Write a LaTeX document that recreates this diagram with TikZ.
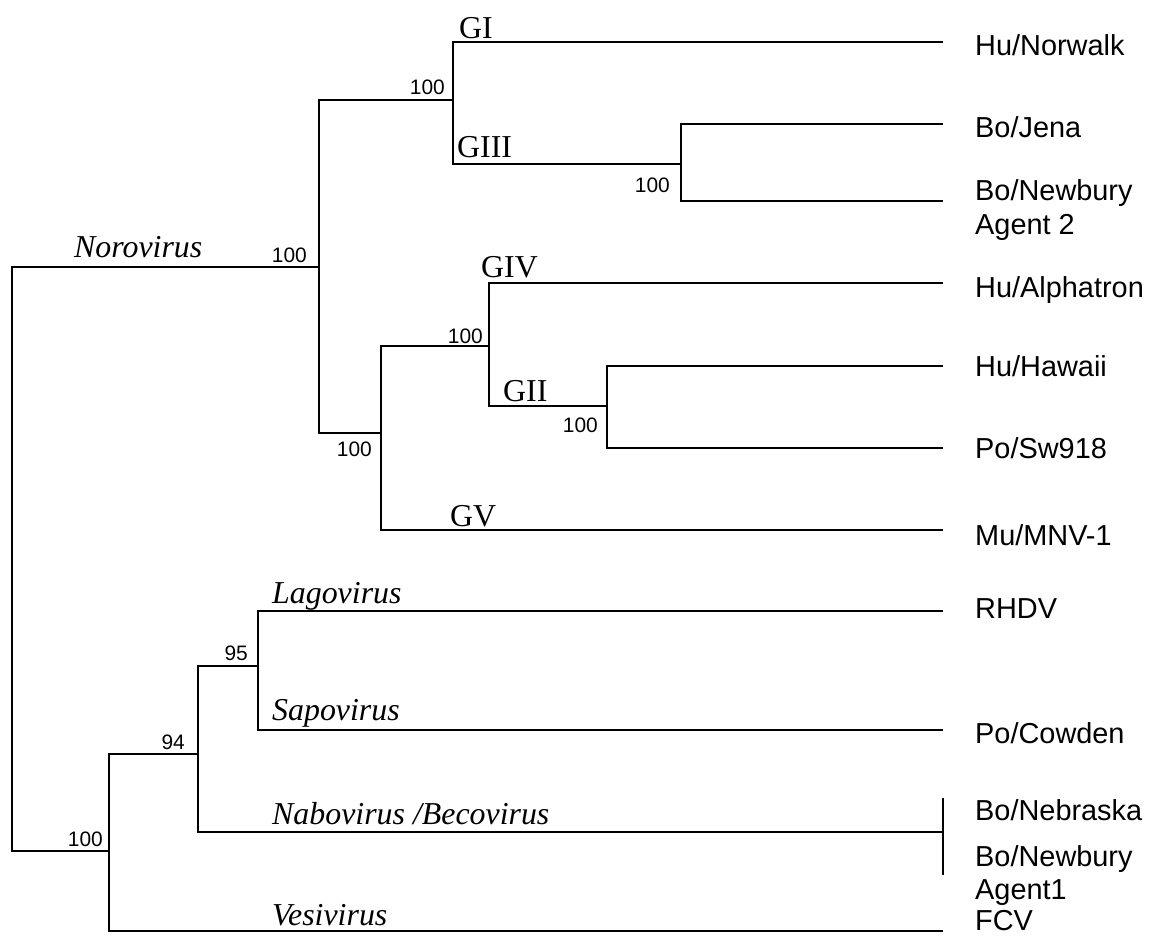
\documentclass[tikz,border=0pt]{standalone}
\usepackage{fontspec}
\setmainfont{Liberation Serif}
\newfontfamily\arialf{Liberation Sans}
\begin{document}
\begin{tikzpicture}[x=1bp,y=-1bp,
  branch/.style={draw=black, line width=2bp, line join=miter},
  leaf/.style={anchor=base west, inner sep=0pt, font=\arialf\fontsize{29}{29}\selectfont},
  boot/.style={anchor=base east, inner sep=0pt, font=\arialf\fontsize{21}{21}\selectfont},
  clade/.style={anchor=base west, inner sep=0pt, font=\fontsize{32}{32}\selectfont},
  genus/.style={anchor=base west, inner sep=0pt, font=\itshape\fontsize{32}{32}\selectfont}]
\fill[white] (0,0) rectangle (1153,936);
\useasboundingbox (0,0) rectangle (1153,936);

% internal nodes (point where incoming branch meets the node)
\coordinate (root) at (12,559);
\coordinate (nN) at (319,267);
\coordinate (nG13) at (453,100);
\coordinate (nG3) at (681,164);
\coordinate (nB) at (381,433);
\coordinate (nG42) at (489,346);
\coordinate (nG2) at (607,406);
\coordinate (nC) at (109,851);
\coordinate (n94) at (198,754);
\coordinate (n95) at (258,666);

% leaf ends
\coordinate (lNor) at (943,42);
\coordinate (lJen) at (943,124);
\coordinate (lNew2) at (943,201);
\coordinate (lAlp) at (943,283);
\coordinate (lHaw) at (943,366);
\coordinate (lSw) at (943,448);
\coordinate (lMNV) at (943,530);
\coordinate (lRHDV) at (943,611);
\coordinate (lCow) at (943,730);
\coordinate (lNeb) at (943,832);
\coordinate (lFCV) at (943,931);
\coordinate (bTop) at (943,798);
\coordinate (bBot) at (943,875);

% branches
\path[branch] (root) |- (nN);
\path[branch] (root) |- (nC);
\path[branch] (nN) |- (nG13);
\path[branch] (nN) |- (nB);
\path[branch] (nG13) |- (lNor);
\path[branch] (nG13) |- (nG3);
\path[branch] (nG3) |- (lJen);
\path[branch] (nG3) |- (lNew2);
\path[branch] (nB) |- (nG42);
\path[branch] (nB) |- (lMNV);
\path[branch] (nG42) |- (lAlp);
\path[branch] (nG42) |- (nG2);
\path[branch] (nG2) |- (lHaw);
\path[branch] (nG2) |- (lSw);
\path[branch] (nC) |- (n94);
\path[branch] (nC) |- (lFCV);
\path[branch] (n94) |- (n95);
\path[branch] (n94) |- (lNeb);
\path[branch] (n95) |- (lRHDV);
\path[branch] (n95) |- (lCow);
\draw[line width=1.2bp] (bTop) -- (bBot);

% bootstrap values
\node[boot] (b1) at (307,262) {100};
\node[boot] (b2) at (445,94) {100};
\node[boot] (b3) at (670,192) {100};
\node[boot] (b4) at (372,456) {100};
\node[boot] (b5) at (483,343) {100};
\node[boot] (b6) at (598,432) {100};
\node[boot] (b7) at (248,660) {95};
\node[boot] (b8) at (185,749) {94};
\node[boot] (b9) at (103,846) {100};

% genogroup labels
\node[clade] (tGI) at (459,38) {GI};
\node[clade] (tGIII) at (457,157) {GIII};
\node[clade] (tGIV) at (481,277) {GIV};
\node[clade] (tGII) at (503,401) {GII};
\node[clade] (tGV) at (450,526) {GV};

% genus labels
\node[genus] (tNoro) at (74,257) {Norovirus};
\node[genus] (tLago) at (272,603) {Lagovirus};
\node[genus] (tSapo) at (272,720) {Sapovirus};
\node[genus] (tNabo) at (272,824) {Nabovirus /Becovirus};
\node[genus] (tVesi) at (272,925) {Vesivirus};

% leaf labels
\node[leaf] (sNor) at (975,55) {Hu/Norwalk};
\node[leaf] (sJen) at (975,137) {Bo/Jena};
\node[leaf] (sNew2) at (975,200) {Bo/Newbury};
\node[leaf] (sAg2) at (975,234) {Agent 2};
\node[leaf] (sAlp) at (975,297) {Hu/Alphatron};
\node[leaf] (sHaw) at (975,376) {Hu/Hawaii};
\node[leaf] (sSw) at (975,458) {Po/Sw918};
\node[leaf] (sMNV) at (975,545) {Mu/MNV-1};
\node[leaf] (sRHDV) at (975,618) {RHDV};
\node[leaf] (sCow) at (975,743) {Po/Cowden};
\node[leaf] (sNeb) at (975,820) {Bo/Nebraska};
\node[leaf] (sNew1) at (975,866) {Bo/Newbury};
\node[leaf] (sAg1) at (975,899) {Agent1};
\node[leaf] (sFCV) at (975,930) {FCV};
\end{tikzpicture}
\end{document}
